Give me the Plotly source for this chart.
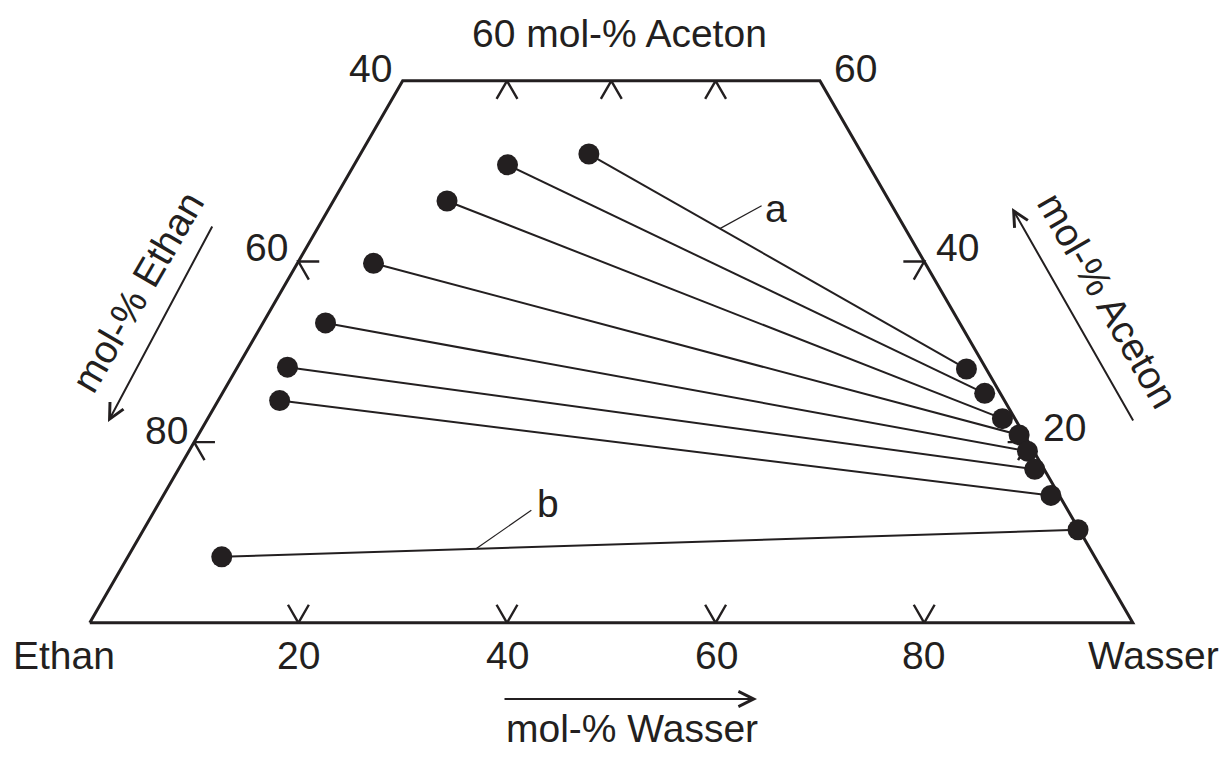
import math
import plotly.graph_objects as go

# ---------------- data (mol-%) ----------------
# Ethan-rich phase (left ends of the tie lines)
ethan_phase_wasser = [21.9, 14.7, 10.9, 7.3, 6.0, 4.8, 5.9, 9.0]
ethan_phase_aceton = [51.9, 50.7, 46.7, 39.8, 33.2, 28.3, 24.6, 7.3]
# Wasser-rich phase (right ends of the tie lines)
wasser_phase_wasser = [70.0, 73.1, 76.2, 78.7, 80.4, 82.1, 85.1, 89.6]
wasser_phase_aceton = [28.1, 25.4, 22.6, 20.8, 19.0, 17.0, 14.1, 10.3]

# diagram frame, truncated at 60 mol-% Aceton (corners as Wasser / Aceton)
frame_wasser = [0, 100, 40, 0, 0]
frame_aceton = [0, 0, 60, 60, 0]

bottom_ticks = [20, 40, 60, 80]   # mol-% Wasser along the base
top_ticks = [10, 20, 30]          # mol-% Wasser along the 60 mol-% Aceton line
left_ticks = [60, 80]             # mol-% Ethan along the left side
right_ticks = [40, 20]            # mol-% Aceton along the right side

# ---------------- geometry ----------------
R3 = math.sqrt(3) / 2
W, H = 1224, 758
X0, Y0, S = 89.8, 622.8, 10.43      # pixel of Ethan corner, pixels per mol-%
INK = "#231f20"
FONT = "Liberation Sans, Arial, sans-serif"


def proj(w, a):
    return w + a / 2, a * R3


fig = go.Figure()

# frame
fx, fy = zip(*[proj(w, a) for w, a in zip(frame_wasser, frame_aceton)])
fig.add_trace(go.Scatter(x=fx, y=fy, mode="lines",
                         line=dict(color=INK, width=3), hoverinfo="skip"))

# ticks (two short arms along the grid directions)
L = 2.0
tx, ty = [], []


def add_tick(w, a, arm1, arm2):
    p1 = proj(w + arm1[0], a + arm1[1])
    p0 = proj(w, a)
    p2 = proj(w + arm2[0], a + arm2[1])
    tx.extend([p1[0], p0[0], p2[0], None])
    ty.extend([p1[1], p0[1], p2[1], None])


for v in bottom_ticks:
    add_tick(v, 0, (0, L), (-L, L))
for v in top_ticks:
    add_tick(v, 60, (0, -L), (L, -L))
for v in left_ticks:
    add_tick(0, 100 - v, (L, 0), (L, -L))
for v in right_ticks:
    add_tick(100 - v, v, (-L, 0), (0, -L))

fig.add_trace(go.Scatter(x=tx, y=ty, mode="lines",
                         line=dict(color=INK, width=2.4), hoverinfo="skip"))

# tie lines
lx, ly = [], []
for w1, a1, w2, a2 in zip(ethan_phase_wasser, ethan_phase_aceton,
                          wasser_phase_wasser, wasser_phase_aceton):
    p1, p2 = proj(w1, a1), proj(w2, a2)
    lx.extend([p1[0], p2[0], None])
    ly.extend([p1[1], p2[1], None])
fig.add_trace(go.Scatter(x=lx, y=ly, mode="lines",
                         line=dict(color=INK, width=2), hoverinfo="skip"))

# points
px_, py_ = [], []
for w, a in zip(ethan_phase_wasser + wasser_phase_wasser,
                ethan_phase_aceton + wasser_phase_aceton):
    x, y = proj(w, a)
    px_.append(x)
    py_.append(y)
fig.add_trace(go.Scatter(x=px_, y=py_, mode="markers",
                         marker=dict(color=INK, size=21, line=dict(width=0)),
                         hoverinfo="skip"))

# leader lines for labels a and b
shapes = []


def leader(i, t, dx, dy):
    x1, y1 = proj(ethan_phase_wasser[i], ethan_phase_aceton[i])
    x2, y2 = proj(wasser_phase_wasser[i], wasser_phase_aceton[i])
    sx, sy = x1 + t * (x2 - x1), y1 + t * (y2 - y1)
    shapes.append(dict(type="line", xref="x", yref="y", x0=sx, y0=sy,
                       x1=sx + dx, y1=sy + dy, line=dict(color=INK, width=1.2)))


leader(0, 0.347, 4.0, 2.2)
leader(7, 0.297, 5.3, 3.7)

# ---------------- text ----------------
annotations = []


def text(s, x, y, angle=0, size=39):
    annotations.append(dict(text=s, xref="paper", yref="paper",
                            x=x / W, y=1 - y / H, xanchor="center",
                            yanchor="middle", showarrow=False, textangle=angle,
                            font=dict(family=FONT, size=size, color=INK)))


text("60 mol-% Aceton", 619, 33)
text("40", 370, 68)
text("60", 855, 68)
text("60", 266, 248)
text("80", 167, 430)
text("40", 957, 247)
text("20", 1064, 427)
for v, xp in zip(bottom_ticks, [298, 507, 716, 923]):
    text(str(v), xp, 655)
text("Ethan", 64, 655)
text("Wasser", 1153, 655)
text("mol-% Wasser", 632, 728)
text("mol-% Ethan", 137, 292, angle=-60)
text("mol-% Aceton", 1108, 300, angle=60)
text("a", 776, 208)
text("b", 548, 503)


def arrow(hx, hy, tx_, ty_):
    annotations.append(dict(text="", xref="paper", yref="paper",
                            x=hx / W, y=1 - hy / H, ax=tx_ - hx, ay=ty_ - hy,
                            showarrow=True, arrowhead=5, arrowsize=1.5,
                            arrowwidth=2, arrowcolor=INK))


arrow(108, 422, 213, 225)
arrow(1012, 208, 1134, 422)
arrow(757, 699, 503, 699)

fig.update_layout(
    width=W, height=H, autosize=False,
    margin=dict(l=0, r=0, t=0, b=0),
    paper_bgcolor="white", plot_bgcolor="white",
    showlegend=False,
    xaxis=dict(range=[-X0 / S, (W - X0) / S], visible=False, fixedrange=True),
    yaxis=dict(range=[-(H - Y0) / S, Y0 / S], visible=False, fixedrange=True),
    shapes=shapes, annotations=annotations,
)

fig.write_html("out.html")
